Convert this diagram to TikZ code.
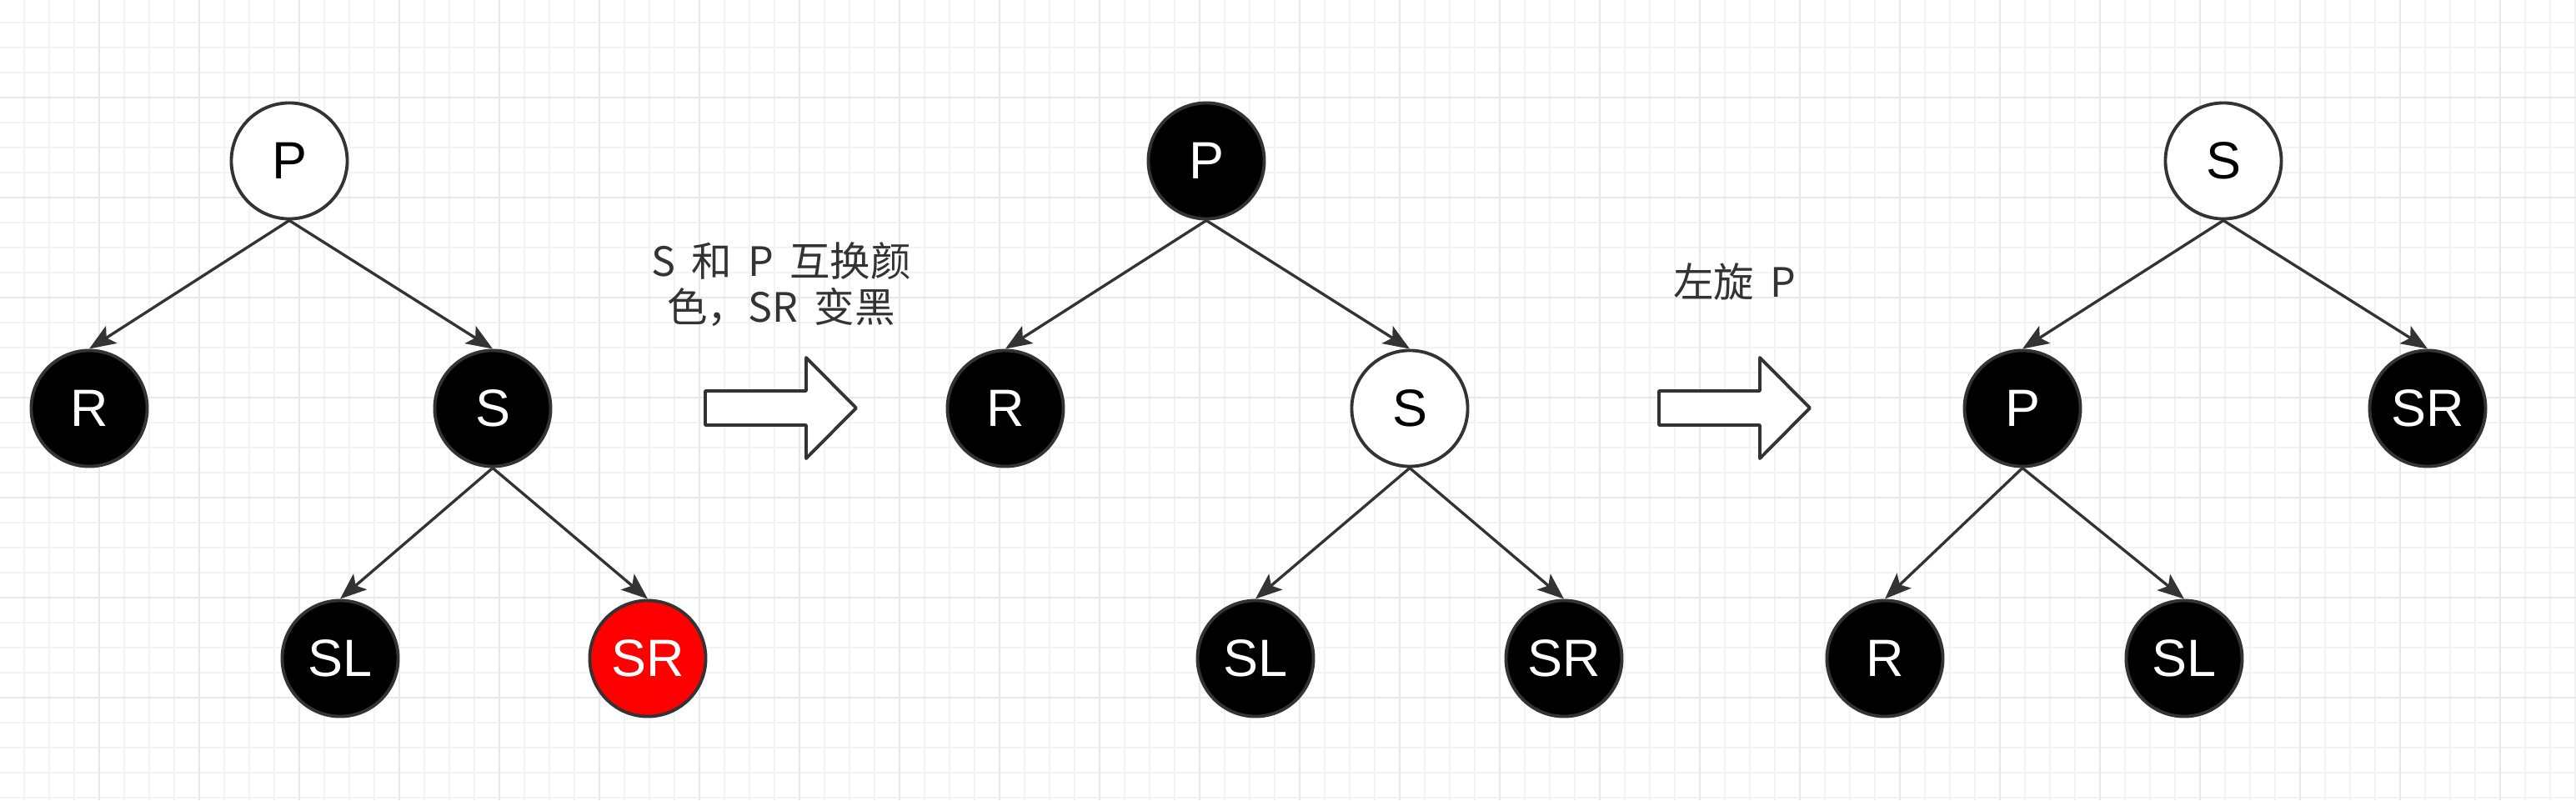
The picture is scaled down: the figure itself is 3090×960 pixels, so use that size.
\documentclass[tikz,border=0pt]{standalone}
\usepackage{fontspec}
\setmainfont{Liberation Sans}
\newfontfamily\cjk{Noto Sans CJK SC}
\usetikzlibrary{arrows.meta}
\definecolor{inkgray}{HTML}{333333}
\definecolor{gridminor}{HTML}{F3F3F3}
\definecolor{gridmajor}{HTML}{E8E8E8}
\definecolor{rbred}{HTML}{FF0000}
\newcommand\notefont{\cjk\fontsize{13.8}{15.6}\selectfont\spaceskip=0.4em\relax}
\tikzset{
 rb/.style={circle,draw=inkgray,line width=1.1pt,minimum size=1.39cm,inner sep=0pt,font=\fontsize{17.9}{20}\selectfont},
 blk/.style={rb,fill=black,text=white},
 wht/.style={rb,fill=white,text=black},
 rednode/.style={rb,fill=rbred,text=white},
 link/.style={-{Stealth[length=9pt,width=7pt,inset=2pt]},draw=inkgray,line width=.95pt},
 turn/.style={draw=inkgray,fill=white,line width=1.1pt,line join=round},
 note/.style={font=\notefont,text=inkgray,align=center}
}
\begin{document}
\begin{tikzpicture}[x=.01cm,y=-.01cm]
\useasboundingbox (0,0) rectangle (3090,960);
\fill[white] (0,0) rectangle (3090,960);
% background grid
\foreach \i in {0,...,102} \draw[gridminor,line width=.5pt] (30*\i+29.3,0)--(30*\i+29.3,960);
\foreach \j in {0,...,31} \draw[gridminor,line width=.5pt] (0,30*\j+26.7)--(3090,30*\j+26.7);
\foreach \i in {0,...,24} \draw[gridmajor,line width=.6pt] (120*\i+119.3,0)--(120*\i+119.3,960);
\foreach \j in {0,...,6} \draw[gridmajor,line width=.6pt] (0,120*\j+116.7)--(3090,120*\j+116.7);
% tree 1
\node[wht] (p1) at (347,193) {P};
\node[blk] (r1) at (107,490) {R};
\node[blk] (s1) at (591,490) {S};
\node[blk] (sl1) at (408,790) {SL};
\node[rednode] (sr1) at (777,790) {SR};
\foreach \a/\b in {p1/r1,p1/s1,s1/sl1,s1/sr1} \draw[link] (\a.south)--(\b.north);
% tree 2
\node[blk] (p2) at (1447,193) {P};
\node[blk] (r2) at (1206,490) {R};
\node[wht] (s2) at (1691,490) {S};
\node[blk] (sl2) at (1506,790) {SL};
\node[blk] (sr2) at (1876,790) {SR};
\foreach \a/\b in {p2/r2,p2/s2,s2/sl2,s2/sr2} \draw[link] (\a.south)--(\b.north);
% tree 3
\node[wht] (s3) at (2667,193) {S};
\node[blk] (p3) at (2426,490) {P};
\node[blk] (sr3) at (2912,490) {SR};
\node[blk] (r3) at (2261,790) {R};
\node[blk] (sl3) at (2620,790) {SL};
\foreach \a/\b in {s3/p3,s3/sr3,p3/r3,p3/sl3} \draw[link] (\a.south)--(\b.north);
% steps
\foreach \ax in {846,1990}
 \draw[turn] (\ax,469)--(\ax+121,469)--(\ax+121,429)--(\ax+181,489.5)--(\ax+121,550)--(\ax+121,510)--(\ax,510)--cycle;
\node[note] (swap) at (937,341) {S 和 P 互换颜\\色，SR 变黑};
\node[note] (rot) at (2081,338) {左旋 P};
\end{tikzpicture}
\end{document}
